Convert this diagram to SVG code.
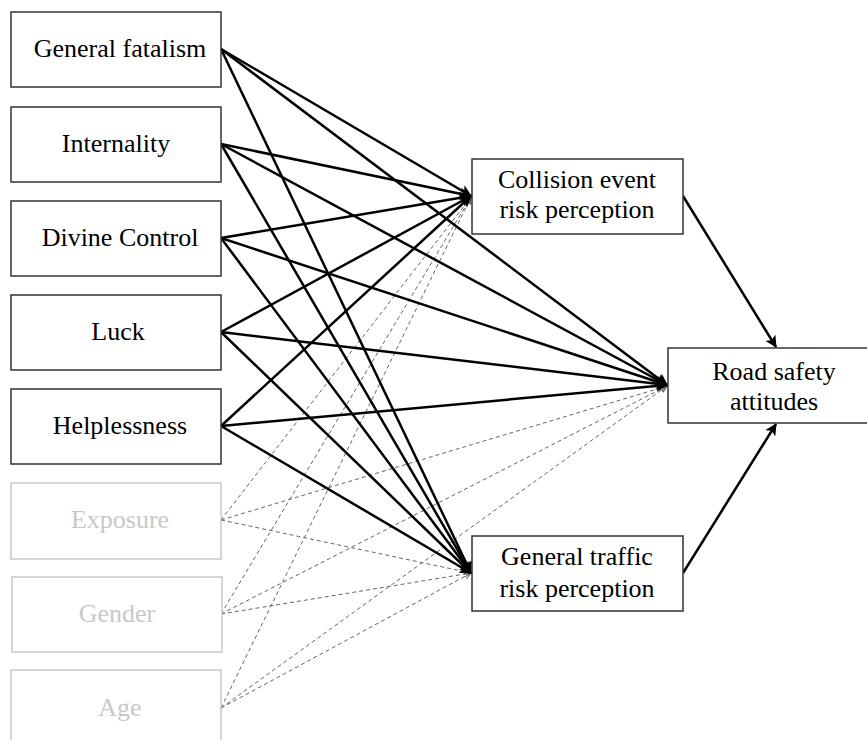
<svg xmlns="http://www.w3.org/2000/svg" width="867" height="740" viewBox="0 0 867 740">
<style>
.box{fill:#fff;stroke:#333;stroke-width:1.5}
.lbox{fill:#fff;stroke:#c8c8c8;stroke-width:1.5}
.t{font-family:"Liberation Serif","Times New Roman","DejaVu Serif",serif;font-size:26px;fill:#000;text-anchor:middle}
.lt{font-family:"Liberation Serif","Times New Roman","DejaVu Serif",serif;font-size:26px;fill:#c8c8c8;text-anchor:middle}
.s{stroke:#000;stroke-width:2.5;fill:none;marker-end:url(#ah)}
.d{stroke:#666;stroke-width:1;fill:none;stroke-dasharray:4 3;marker-end:url(#ahd)}
</style>
<defs>
<marker id="ah" markerWidth="12" markerHeight="12" refX="11" refY="6" orient="auto" markerUnits="userSpaceOnUse">
<path d="M0,0 L12,6 L0,12 L3,6 Z" fill="#000"/>
</marker>
<marker id="ahd" markerWidth="8" markerHeight="8" refX="7" refY="4" orient="auto" markerUnits="userSpaceOnUse">
<path d="M0,1 L7,4 L0,7" fill="none" stroke="#666" stroke-width="1"/>
</marker>
</defs>
<rect width="867" height="740" fill="#fff"/>
<g id="connectors">
<line class="d" x1="221" y1="520" x2="471" y2="197"/>
<line class="d" x1="221" y1="520" x2="667" y2="386"/>
<line class="d" x1="221" y1="520" x2="471" y2="573"/>
<line class="d" x1="221" y1="614" x2="471" y2="197"/>
<line class="d" x1="221" y1="614" x2="667" y2="386"/>
<line class="d" x1="221" y1="614" x2="471" y2="573"/>
<line class="d" x1="221" y1="708" x2="471" y2="197"/>
<line class="d" x1="221" y1="708" x2="667" y2="386"/>
<line class="d" x1="221" y1="708" x2="471" y2="573"/>
<line class="s" x1="221" y1="49" x2="471" y2="196"/>
<line class="s" x1="221" y1="49" x2="667" y2="385"/>
<line class="s" x1="221" y1="49" x2="471" y2="573"/>
<line class="s" x1="221" y1="144" x2="471" y2="196"/>
<line class="s" x1="221" y1="144" x2="667" y2="385"/>
<line class="s" x1="221" y1="144" x2="471" y2="573"/>
<line class="s" x1="221" y1="238" x2="471" y2="196"/>
<line class="s" x1="221" y1="238" x2="667" y2="385"/>
<line class="s" x1="221" y1="238" x2="471" y2="573"/>
<line class="s" x1="221" y1="332" x2="471" y2="196"/>
<line class="s" x1="221" y1="332" x2="667" y2="385"/>
<line class="s" x1="221" y1="332" x2="471" y2="573"/>
<line class="s" x1="221" y1="426" x2="471" y2="196"/>
<line class="s" x1="221" y1="426" x2="667" y2="385"/>
<line class="s" x1="221" y1="426" x2="471" y2="573"/>
<line class="s" x1="683" y1="196" x2="776" y2="347"/>
<line class="s" x1="683" y1="573" x2="776" y2="424"/>
</g>
<g id="general-fatalism"><rect class="box" x="11" y="12" width="210" height="75"/><text class="t" x="120" y="57">General fatalism</text></g>
<g id="internality"><rect class="box" x="11" y="107" width="210" height="75"/><text class="t" x="116" y="152">Internality</text></g>
<g id="divine-control"><rect class="box" x="11" y="201" width="210" height="75"/><text class="t" x="120" y="246">Divine Control</text></g>
<g id="luck"><rect class="box" x="11" y="295" width="210" height="75"/><text class="t" x="118" y="340">Luck</text></g>
<g id="helplessness"><rect class="box" x="11" y="389" width="210" height="75"/><text class="t" x="120" y="434">Helplessness</text></g>
<g id="exposure"><rect class="lbox" x="11" y="483" width="210" height="76"/><text class="lt" x="120" y="528">Exposure</text></g>
<g id="gender"><rect class="lbox" x="12" y="577" width="210" height="75"/><text class="lt" x="117" y="622">Gender</text></g>
<g id="age"><rect class="lbox" x="11" y="670" width="210" height="80"/><text class="lt" x="120" y="716">Age</text></g>
<g id="collision"><rect class="box" x="472" y="159" width="211" height="75"/><text class="t" x="577" y="188">Collision event</text><text class="t" x="577" y="218">risk perception</text></g>
<g id="road-safety"><rect class="box" x="668" y="348" width="205" height="75"/><text class="t" x="774" y="380">Road safety</text><text class="t" x="774" y="410">attitudes</text></g>
<g id="general-traffic"><rect class="box" x="472" y="536" width="211" height="75"/><text class="t" x="577" y="565">General traffic</text><text class="t" x="577" y="597">risk perception</text></g>
</svg>
